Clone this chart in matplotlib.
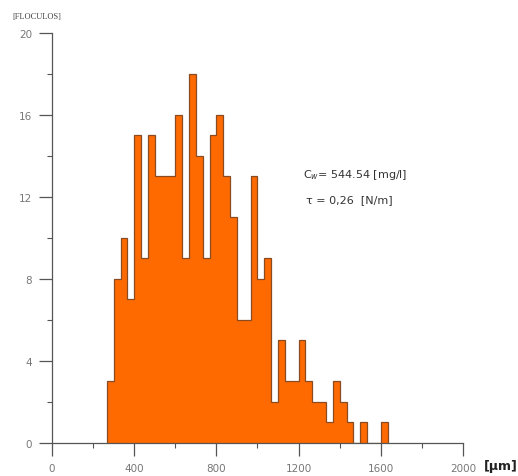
import numpy as np
import matplotlib
matplotlib.use("Agg")
import matplotlib.pyplot as plt
from matplotlib.ticker import MultipleLocator

# histogram: bin width 2000/60 um, first filled bin starts at bin index 8
BIN_WIDTH = 2000 / 60
FIRST_BIN = 8
counts = [3, 8, 10, 7, 15, 9, 15, 13, 13, 13, 16, 9, 18, 14, 9, 15, 16, 13,
          11, 6, 6, 13, 8, 9, 2, 5, 3, 3, 5, 3, 2, 2, 1, 3, 2, 1, 0, 1, 0, 0, 1]

y_label = "[FLOCULOS]"
x_unit = "[\u00b5m]"
note_lines = ["C$_{w}$= 544.54 [mg/l]", "\u03c4 = 0,26  [N/m]"]

edges = FIRST_BIN * BIN_WIDTH + np.arange(len(counts) + 1) * BIN_WIDTH

fig = plt.figure(figsize=(5.18, 4.77), dpi=100)
ax = fig.add_axes([0.1004, 0.0702, 0.7934, 0.8585])

ax.stairs(counts, edges, fill=True, color="#ff6a00", zorder=2)
ax.stairs(counts, edges, fill=False, color="#8a4a22", linewidth=0.9, zorder=3)

ax.set_xlim(0, 2000)
ax.set_ylim(0, 20)
ax.xaxis.set_major_locator(MultipleLocator(400))
ax.xaxis.set_minor_locator(MultipleLocator(200))
ax.yaxis.set_major_locator(MultipleLocator(4))
ax.yaxis.set_minor_locator(MultipleLocator(2))

for s in ["top", "right"]:
    ax.spines[s].set_visible(False)
for s in ["left", "bottom"]:
    ax.spines[s].set_color("#555555")
    ax.spines[s].set_linewidth(0.9)

ax.tick_params(which="major", length=9.4, width=0.9, color="#555555",
               labelsize=7.5, labelcolor="#777777", pad=5)
ax.tick_params(which="minor", length=3.6, width=0.8, color="#555555")

fig.text(0.024, 0.964, y_label, fontsize=6, family="Liberation Serif",
         color="#444444", ha="left", va="center")
fig.text(0.935, 0.022, x_unit, fontsize=9, fontweight="bold",
         ha="left", va="center", color="#222222")

ax.text(1220, 13.1, note_lines[0], fontsize=8, color="#333333", ha="left", va="center")
ax.text(1235, 11.9, note_lines[1], fontsize=8, color="#333333", ha="left", va="center")

fig.savefig("out.png", dpi=100)
